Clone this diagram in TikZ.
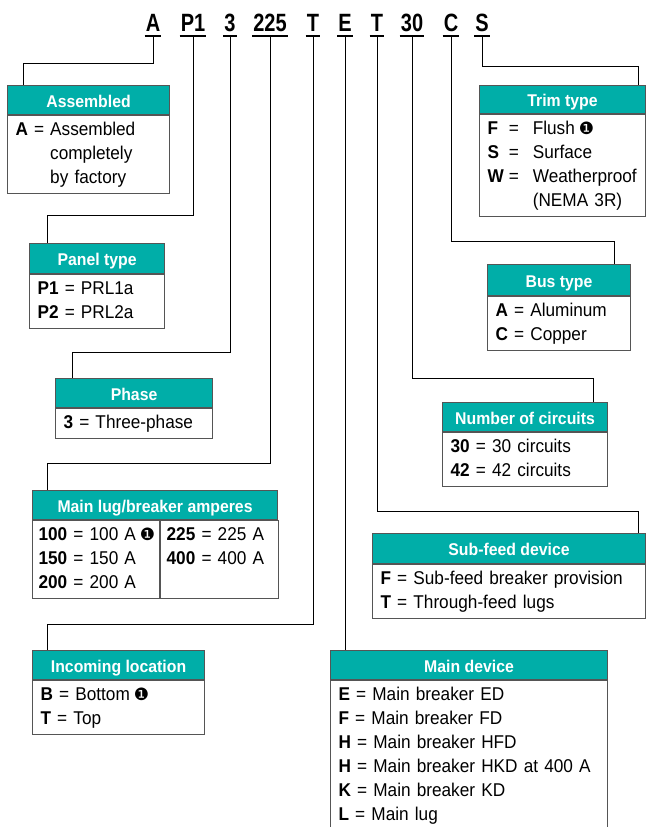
\documentclass[tikz,border=0pt]{standalone}
\usepackage{fontspec}
\setmainfont{Liberation Sans}[FakeStretch=0.93]
\newfontfamily\codefont{Liberation Sans}[FakeStretch=0.8]
\newfontfamily\dingfont{DejaVu Sans}
\newcommand{\footmark}{\hspace{4pt}{\dingfont\fontsize{17}{17}\selectfont\char"2776}}
\definecolor{hdteal}{RGB}{0,174,168}
\definecolor{rimgray}{RGB}{85,85,85}
\tikzstyle{headbar} = [draw=rimgray, line width=1.1pt, fill=hdteal, text=white, font=\fontsize{17}{19}\selectfont\bfseries, anchor=north west, text height=16pt, text depth=2pt, inner sep=0pt]
\tikzstyle{bodybox} = [draw=rimgray, line width=1.1pt, fill=white, anchor=north west, inner xsep=8pt, inner ysep=3pt, align=left, font=\fontsize{18.5}{24}\selectfont]
\tikzstyle{codeletter} = [font=\codefont\fontsize{25}{28}\selectfont\bfseries, anchor=base, text depth=0pt, inner xsep=1pt, inner ysep=5pt]
\tikzstyle{leader} = [line width=1pt]
\tikzstyle{codebar} = [line width=1.8pt]

\begin{document}
\begin{tikzpicture}[x=1pt,y=-1pt]
\useasboundingbox (0,0) rectangle (655,827);
\clip (0,0) rectangle (655,827);

% catalog number
\node[codeletter] (cA) at (153,31) {A};
\node[codeletter] (cP) at (193,31) {P1};
\node[codeletter] (cPh) at (230,31) {3};
\node[codeletter] (cAmp) at (270,31) {225};
\node[codeletter] (cIn) at (313,31) {T};
\node[codeletter] (cMain) at (345,31) {E};
\node[codeletter] (cSub) at (377,31) {T};
\node[codeletter] (cCirc) at (412,31) {30};
\node[codeletter] (cBus) at (451,31) {C};
\node[codeletter] (cTrim) at (482,31) {S};
\foreach \c in {cA,cP,cPh,cAmp,cIn,cMain,cSub,cCirc,cBus,cTrim}
  \draw[codebar] (\c.south west) -- (\c.south east);

% left column
\node[headbar, minimum width=162pt, minimum height=29pt] (asmhead) at (7,85) {Assembled};
\node[bodybox, text width=146pt] (asmbody) at (asmhead.south west) {%
\begin{tabular}{@{}l@{\hspace{6pt}}l@{}}
\textbf{A} = & Assembled\\
 & completely\\
 & by factory
\end{tabular}};

\node[headbar, minimum width=135pt, minimum height=30pt] (pnlhead) at (29,243) {Panel type};
\node[bodybox, text width=119pt] (pnlbody) at (pnlhead.south west) {%
\begin{tabular}{@{}l@{}}
\textbf{P1} = PRL1a\\
\textbf{P2} = PRL2a
\end{tabular}};

\node[headbar, minimum width=157pt, minimum height=29pt] (phshead) at (55,378) {Phase};
\node[bodybox, text width=141pt] (phsbody) at (phshead.south west) {%
\begin{tabular}{@{}l@{}}
\textbf{3} = Three-phase
\end{tabular}};

\node[headbar, minimum width=245pt, minimum height=29pt] (amphead) at (32,490) {Main lug/breaker amperes};
\node[bodybox, inner xsep=6pt, text width=115pt] (ampleft) at (amphead.south west) {%
\begin{tabular}{@{}l@{}}
\textbf{100} = 100 A\footmark\\
\textbf{150} = 150 A\\
\textbf{200} = 200 A
\end{tabular}};
\node[bodybox, inner xsep=6pt, text width=106pt] (ampright) at (ampleft.north east) {%
\begin{tabular}{@{}l@{}}
\textbf{225} = 225 A\\
\textbf{400} = 400 A\\
\
\end{tabular}};

\node[headbar, minimum width=172pt, minimum height=29pt] (inchead) at (32,650) {Incoming location};
\node[bodybox, text width=156pt] (incbody) at (inchead.south west) {%
\begin{tabular}{@{}l@{}}
\textbf{B} = Bottom\footmark\\
\textbf{T} = Top
\end{tabular}};

% right column
\node[headbar, minimum width=166pt, minimum height=28pt] (trimhead) at (479,85) {Trim type};
\node[bodybox, text width=150pt] (trimbody) at (trimhead.south west) {%
\begin{tabular}{@{}l@{\hspace{5pt}}c@{\hspace{14pt}}l@{}}
\textbf{F} & = & Flush\footmark\\
\textbf{S} & = & Surface\\
\textbf{W} & = & Weatherproof\\
 & & (NEMA 3R)
\end{tabular}};

\node[headbar, minimum width=143pt, minimum height=31pt] (bushead) at (487,264) {Bus type};
\node[bodybox, text width=127pt] (busbody) at (bushead.south west) {%
\begin{tabular}{@{}l@{}}
\textbf{A} = Aluminum\\
\textbf{C} = Copper
\end{tabular}};

\node[headbar, minimum width=165pt, minimum height=29pt] (circhead) at (442,402) {Number of circuits};
\node[bodybox, text width=149pt] (circbody) at (circhead.south west) {%
\begin{tabular}{@{}l@{}}
\textbf{30} = 30 circuits\\
\textbf{42} = 42 circuits
\end{tabular}};

\node[headbar, minimum width=273pt, minimum height=30pt] (subhead) at (372,533) {Sub-feed device};
\node[bodybox, text width=257pt] (subbody) at (subhead.south west) {%
\begin{tabular}{@{}l@{}}
\textbf{F} = Sub-feed breaker provision\\
\textbf{T} = Through-feed lugs
\end{tabular}};

\node[headbar, minimum width=277pt, minimum height=29pt] (mdevhead) at (330,650) {Main device};
\node[bodybox, text width=261pt] (mdevbody) at (mdevhead.south west) {%
\begin{tabular}{@{}l@{}}
\textbf{E} = Main breaker ED\\
\textbf{F} = Main breaker FD\\
\textbf{H} = Main breaker HFD\\
\textbf{H} = Main breaker HKD at 400 A\\
\textbf{K} = Main breaker KD\\
\textbf{L} = Main lug
\end{tabular}};

% leaders
\coordinate (kA) at (23,63);
\coordinate (kP) at (47,215);
\coordinate (kPh) at (72,352);
\coordinate (kAmp) at (47,463);
\coordinate (kIn) at (47,624);
\coordinate (kSub) at (638,511);
\coordinate (kCirc) at (593,378);
\coordinate (kBus) at (614,241);
\coordinate (kTrim) at (638,66);
\draw[leader] (cA.south) |- (kA) -- (kA |- asmhead.north);
\draw[leader] (cP.south) |- (kP) -- (kP |- pnlhead.north);
\draw[leader] (cPh.south) |- (kPh) -- (kPh |- phshead.north);
\draw[leader] (cAmp.south) |- (kAmp) -- (kAmp |- amphead.north);
\draw[leader] (cIn.south) |- (kIn) -- (kIn |- inchead.north);
\draw[leader] (cMain.south) -- (cMain.south |- mdevhead.north);
\draw[leader] (cSub.south) |- (kSub) -- (kSub |- subhead.north);
\draw[leader] (cCirc.south) |- (kCirc) -- (kCirc |- circhead.north);
\draw[leader] (cBus.south) |- (kBus) -- (kBus |- bushead.north);
\draw[leader] (cTrim.south) |- (kTrim) -- (kTrim |- trimhead.north);
\end{tikzpicture}
\end{document}
